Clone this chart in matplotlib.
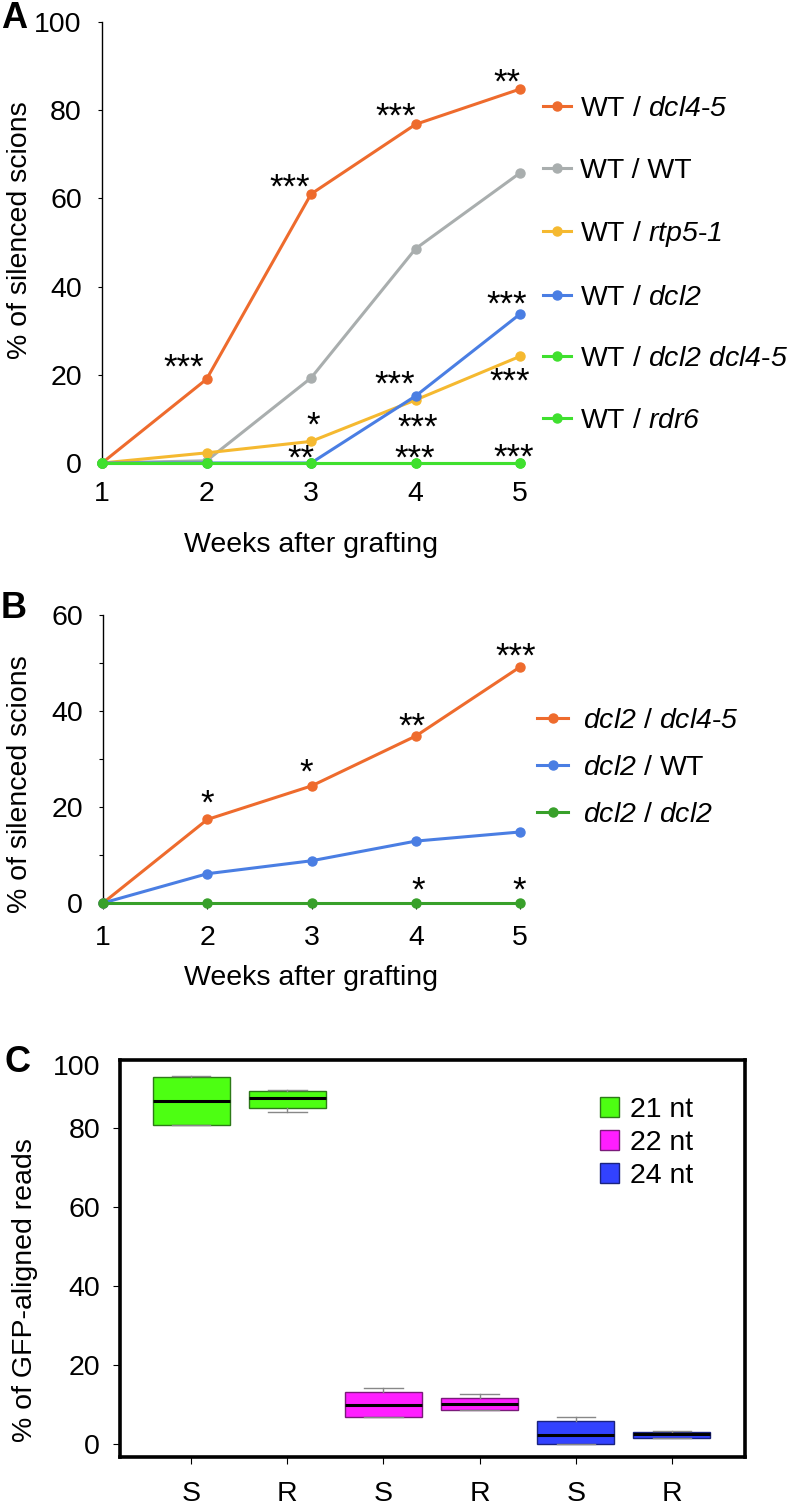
import matplotlib
matplotlib.use("Agg")
import matplotlib.pyplot as plt
from matplotlib.lines import Line2D
from matplotlib.patches import Patch

plt.rcParams['font.family'] = ['Liberation Sans', 'DejaVu Sans']
# math mode is only used for the italic genotype names
plt.rcParams['mathtext.fontset'] = 'custom'
plt.rcParams['mathtext.rm'] = 'Liberation Sans:italic'
plt.rcParams['mathtext.it'] = 'Liberation Sans:italic'
plt.rcParams['mathtext.default'] = 'it'

FS = 20.5
STAR_FS = 25

weeks = [1, 2, 3, 4, 5]

# --- panel A: WT scions on different rootstocks
a_labels = [r'WT / $dcl4$-$5$', 'WT / WT', r'WT / $rtp5$-$1$',
            r'WT / $dcl2$', r'WT / $dcl2$ $dcl4$-$5$', r'WT / $rdr6$']
a_dcl45 = [0, 19, 61, 76.8, 84.8]
a_wt = [0, 0.5, 19.3, 48.6, 65.8]
a_rtp51 = [0, 2.3, 4.9, 14.3, 24.2]
a_dcl2 = [0, 0, 0, 15.2, 33.8]
a_dcl2dcl45 = [0, 0, 0, 0, 0]
a_rdr6 = [0, 0, 0, 0, 0]
a_colors = ['#EE6B2D', '#A9AEAE', '#F5B930', '#4A7EE3', '#3FE02E', '#3FE02E']
# (series, week, stars)
a_stars = [(0, 2, '***'), (0, 3, '***'), (0, 4, '***'), (0, 5, '**'),
           (3, 5, '***'), (2, 5, '***'), (3, 4, '***'), (2, 4, '***'),
           (2, 3, '*'), (4, 3, '**'), (4, 4, '***'), (4, 5, '***')]
a_star_off = [(-23, 17), (-21, 12), (-20, 13), (-13, 12),
              (-13, 15), (-10, -20), (-21, 17), (2, -22),
              (2, 21), (-10, 10), (-1, 10), (-6, 11)]

# --- panel B: dcl2 scions
b_labels = [r'$dcl2$ / $dcl4$-$5$', r'$dcl2$ / WT', r'$dcl2$ / $dcl2$']
b_dcl45 = [0, 17.4, 24.4, 34.8, 49.2]
b_wt = [0, 6.1, 8.8, 12.9, 14.8]
b_dcl2 = [0, 0, 0, 0, 0]
b_colors = ['#EE6B2D', '#4A7EE3', '#38A02A']
b_stars = [(0, 2, '*'), (0, 3, '*'), (0, 4, '**'), (0, 5, '***'), (2, 4, '*'), (2, 5, '*')]
b_star_off = [(0, 21), (-5, 19), (-4, 15), (-5, 16), (2, 18), (-1, 18)]

# --- panel C: small RNA size classes, S / R
c_ticklabels = ['S', 'R', 'S', 'R', 'S', 'R']
c_classes = ['21 nt', '22 nt', '24 nt']
c_med = [86.7, 87.7, 9.9, 10.0, 2.3, 2.4]
c_q1 = [80.8, 85.0, 6.9, 8.7, 0.0, 1.6]
c_q3 = [92.9, 89.3, 13.2, 11.7, 5.8, 3.1]
c_whislo = [80.8, 84.1, 6.8, 8.6, 0.0, 1.6]
c_whishi = [93.2, 89.6, 14.1, 12.6, 6.7, 3.4]
c_fill = ['#4DFF12', '#FF1EFF', '#3242FF']
c_edge = ['#2D7A18', '#7A1A7A', '#1A237F']

W, H = 795, 1504
fig = plt.figure(figsize=(W / 100, H / 100), dpi=100)


def rect(l, t, r, b):
    return [l / W, 1 - b / H, (r - l) / W, (b - t) / H]


STAR_DROP = 0.45 * STAR_FS * 100 / 72  # asterisk centre above its baseline, px


def line_panel(ax, series, colors, stars, offs, ymax, ystep, lab_every):
    for s, c in zip(series, colors):
        ax.plot(weeks, s, color=c, lw=2.2, marker='o', ms=6.5, clip_on=False, zorder=3)
    for (si, wk, txt), (dx, dy) in zip(stars, offs):
        ax.annotate(txt, (wk, series[si][wk - 1]), xytext=(dx, dy - STAR_DROP),
                    textcoords='offset pixels', ha='center', va='baseline',
                    fontsize=STAR_FS, annotation_clip=False)
    ax.set_xlim(1, 5.18)
    ax.set_ylim(0, ymax)
    ax.set_xticks(weeks)
    yt = list(range(0, ymax + 1, ystep))
    ax.set_yticks(yt)
    ax.set_yticklabels([str(v) if v % lab_every == 0 else '' for v in yt])
    for sp in ['top', 'right', 'bottom']:
        ax.spines[sp].set_visible(False)
    ax.spines['left'].set_linewidth(1.0)
    ax.tick_params(axis='y', length=3, width=0.8, pad=11.5, labelsize=FS)
    ax.tick_params(axis='x', labelsize=FS)


# panel A
axA = fig.add_axes(rect(102, 22, 539, 463))
line_panel(axA, [a_dcl45, a_wt, a_rtp51, a_dcl2, a_dcl2dcl45, a_rdr6], a_colors,
           a_stars, a_star_off, 100, 20, 20)
axA.tick_params(axis='x', length=0, pad=13)
hA = [Line2D([], [], color=c, lw=2.2, marker='o', ms=6.5) for c in a_colors]
fig.legend(hA, a_labels, loc='center left', bbox_to_anchor=(543 / W, 1 - 265 / H),
           frameon=False, fontsize=FS, handlelength=1.0, handletextpad=0.3,
           labelspacing=1.25, borderpad=0, borderaxespad=0)
fig.text(311 / W, 1 - 545 / H, 'Weeks after grafting', ha='center', va='center', fontsize=FS)
fig.text(20 / W, 1 - 230 / H, '% of silenced scions', rotation=90, ha='center', va='center', fontsize=FS)
fig.text(1 / W, 1 - 18 / H, 'A', ha='left', va='center', fontsize=26, weight='bold')

# panel B
axB = fig.add_axes(rect(103, 615, 539, 903))
line_panel(axB, [b_dcl45, b_wt, b_dcl2], b_colors, b_stars, b_star_off, 60, 10, 20)
axB.tick_params(axis='x', length=4, width=0.8, pad=12)
hB = [Line2D([], [], color=c, lw=2.2, marker='o', ms=6.5) for c in b_colors]
fig.legend(hB, b_labels, loc='center left', bbox_to_anchor=(537 / W, 1 - 768 / H),
           frameon=False, fontsize=FS, handlelength=1.1, handletextpad=0.5,
           labelspacing=0.75, borderpad=0, borderaxespad=0)
fig.text(311 / W, 1 - 978 / H, 'Weeks after grafting', ha='center', va='center', fontsize=FS)
fig.text(20 / W, 1 - 784 / H, '% of silenced scions', rotation=90, ha='center', va='center', fontsize=FS)
fig.text(1 / W, 1 - 609 / H, 'B', ha='left', va='center', fontsize=26, weight='bold')

# panel C
axC = fig.add_axes(rect(120, 1060, 745, 1457))
stats = []
for i in range(len(c_ticklabels)):
    stats.append(dict(med=c_med[i], q1=c_q1[i], q3=c_q3[i],
                      whislo=c_whislo[i], whishi=c_whishi[i], fliers=[]))
bp = axC.bxp(stats, positions=range(1, 7), widths=0.8, patch_artist=True,
             medianprops=dict(color='black', lw=2.2),
             whiskerprops=dict(color='#888888', lw=1),
             capprops=dict(color='#888888', lw=1),
             boxprops=dict(lw=1))
for i, patch in enumerate(bp['boxes']):
    patch.set_facecolor(c_fill[i // 2])
    patch.set_edgecolor(c_edge[i // 2])
axC.set_xlim(0.26, 6.76)
axC.set_ylim(-3.3, 97.2)
axC.set_yticks([0, 20, 40, 60, 80])
axC.set_xticks(range(1, 7))
axC.set_xticklabels(c_ticklabels)
for sp in axC.spines.values():
    sp.set_linewidth(2.6)
axC.tick_params(axis='y', length=5, width=0.8, pad=9.4, labelsize=FS)
axC.tick_params(axis='x', length=5, width=0.8, pad=12, labelsize=FS)
hC = [Patch(facecolor=f, edgecolor=e, lw=1) for f, e in zip(c_fill, c_edge)]
fig.legend(hC, c_classes, loc='center left', bbox_to_anchor=(600 / W, 1 - 1143 / H),
           frameon=False, fontsize=FS, handlelength=0.67, handleheight=0.67,
           handletextpad=0.4, labelspacing=0.25, borderpad=0, borderaxespad=0)
fig.text(100 / W, 1 - 1068 / H, '100', ha='right', va='center', fontsize=FS)
fig.text(25 / W, 1 - 1290 / H, '% of GFP-aligned reads', rotation=90, ha='center', va='center', fontsize=FS)
fig.text(5 / W, 1 - 1062 / H, 'C', ha='left', va='center', fontsize=26, weight='bold')

fig.savefig('out.png', dpi=100)
